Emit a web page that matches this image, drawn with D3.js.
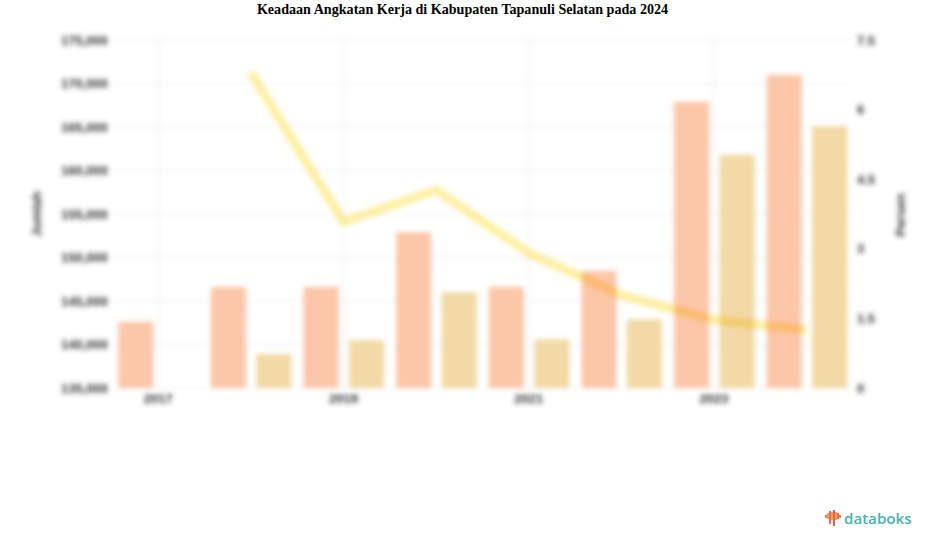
<!DOCTYPE html>
<html><head><meta charset="utf-8">
<script src="https://cdn.jsdelivr.net/npm/d3@7/dist/d3.min.js"></script>
<style>html,body{margin:0;padding:0;background:#fff}svg{display:block}</style>
</head><body><svg id="c" width="925" height="547"></svg>
<script>
const years = ["2017","2018","2019","2020","2021","2022","2023","2024"];
const xTickLabels = ["2017","2019","2021","2023"];
const angkatanKerja = [142600,146600,146600,152900,146600,148450,167900,171000];
const bekerja = [null,138900,140500,146000,140600,142900,161800,165100];
const tpt = [null,6.79,3.58,4.27,2.91,2.0,1.47,1.25];
const leftTicks = [135000,140000,145000,150000,155000,160000,165000,170000,175000];
const rightTicks = [0,1.5,3,4.5,6,7.5];
const titleText = "Keadaan Angkatan Kerja di Kabupaten Tapanuli Selatan pada 2024";
const leftTitle = "Jumlah", rightTitle = "Persen", brand = "databoks";

const svg = d3.select("#c");
const defs = svg.append("defs");
defs.append("filter").attr("id","blur").attr("x","-5%").attr("y","-5%").attr("width","110%").attr("height","110%")
  .append("feGaussianBlur").attr("stdDeviation",2.8);

const x = d3.scaleBand().domain(years).range([111,852]);
const yL = d3.scaleLinear().domain([135000,175000]).range([388,40]);
const yR = d3.scaleLinear().domain([0,7.5]).range([388,40]);
const bw = 35;
const cx = d => x(d)+x.bandwidth()/2;

svg.append("text").attr("x",462.5).attr("y",14).attr("text-anchor","middle")
  .attr("font-family","Liberation Serif").attr("font-weight","bold").attr("font-size",14.1).attr("fill","#000").text(titleText);

const g = svg.append("g").attr("filter","url(#blur)");
g.append("g").selectAll("line").data(leftTicks).join("line")
  .attr("x1",113).attr("x2",850).attr("y1",d=>yL(d)).attr("y2",d=>yL(d)).attr("stroke","#ededed").attr("stroke-width",1.2);
g.append("g").selectAll("line").data(xTickLabels).join("line")
  .attr("x1",d=>cx(d)+1).attr("x2",d=>cx(d)+1).attr("y1",40).attr("y2",388).attr("stroke","#ededed").attr("stroke-width",1.2);
g.append("g").selectAll("rect").data(years.map((y,i)=>({y,v:angkatanKerja[i]}))).join("rect")
  .attr("x",d=>cx(d.y)-21.5-bw/2).attr("width",bw).attr("y",d=>yL(d.v)).attr("height",d=>yL(135000)-yL(d.v)).attr("fill","#fcc6a8");
g.append("g").selectAll("rect").data(years.map((y,i)=>({y,v:bekerja[i]})).filter(d=>d.v!==null)).join("rect")
  .attr("x",d=>cx(d.y)+24-bw/2).attr("width",bw).attr("y",d=>yL(d.v)).attr("height",d=>yL(135000)-yL(d.v)).attr("fill","#f2d9a5");
const line = d3.line().defined(d=>d.v!==null).x(d=>cx(d.y)+1).y(d=>yR(d.v));
g.append("path").datum(years.map((y,i)=>({y,v:tpt[i]}))).attr("d",line).attr("fill","none")
  .attr("stroke","#fef0a4").attr("stroke-width",9).style("mix-blend-mode","multiply");
const axisFont = {"font-family":"Liberation Sans","font-size":13,"font-weight":"bold","fill":"#333"};
const style = s => { for (const k in axisFont) s.attr(k,axisFont[k]); return s; };
style(g.append("g").selectAll("text").data(leftTicks).join("text")
  .attr("x",108).attr("y",d=>yL(d)+4.5).attr("text-anchor","end").text(d3.format(",")));
style(g.append("g").selectAll("text").data(rightTicks).join("text")
  .attr("x",857).attr("y",d=>yR(d)+4.5).text(d=>d));
style(g.append("g").selectAll("text").data(xTickLabels).join("text")
  .attr("x",d=>cx(d)+1).attr("y",403).attr("text-anchor","middle").text(d=>d));
style(g.append("text").attr("transform","translate(41,214) rotate(-90)").attr("text-anchor","middle").text(leftTitle));
style(g.append("text").attr("transform","translate(905,215) rotate(-90)").attr("text-anchor","middle").text(rightTitle));

const logoBars = [[-1,3],[-3,6],[-5,13],[-4,8],[-6,16],[-4,8],[-3,6],[-1,3]];
const logoCols = ["#ee7a62","#f2a65a","#ee6a5c","#f2a65a","#e8604f","#f2a65a","#ee6a5c","#ee7a62"];
const lg = svg.append("g");
lg.selectAll("rect").data(logoBars).join("rect")
  .attr("x",(d,i)=>825+i*2).attr("y",d=>516+d[0]).attr("width",2).attr("height",d=>d[1]).attr("fill",(d,i)=>logoCols[i]);
lg.append("text").attr("x",844).attr("y",524).attr("font-family","Open Sans").attr("font-weight","600")
  .attr("font-size",15.1).attr("fill","#45b3b0").text(brand);
</script></body></html>
